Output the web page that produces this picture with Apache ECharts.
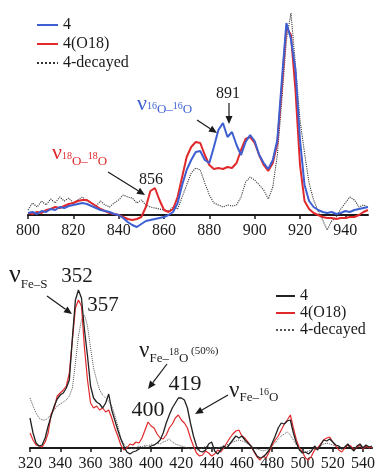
<!DOCTYPE html>
<html><head><meta charset="utf-8">
<script src="https://cdn.jsdelivr.net/npm/echarts@6/dist/echarts.min.js"></script>
<style>html,body{margin:0;padding:0;background:#fff}#c{width:378px;height:476px}</style>
</head><body><div id="c"></div>
<script>
// ---------- top panel (800-950 cm-1) ----------
const xTop = [800,802,804,806,808,810,812,814,816,818,820,822,824,826,828,830,832,834,836,838,840,842,844,846,848,850,852,854,856,858,860,862,864,866,868,870,872,874,876,878,880,882,884,886,888,890,892,894,896,898,900,902,904,906,908,910,912,914,916,918,920,922,924,926,928,930,932,934,936,938,940,942,944,946,948,950];
const topS4 = [2,3,1,4,3,6,5,8,7,9,10,11,12,11,9,7,5,4,3,1,0,-3,-7,-10,-12,-9,-6,-5,-4,-3,-2,0,3,12,30,45,55,63,64,55,52,68,85,92,78,83,70,60,73,80,74,60,52,46,55,75,135,192,176,145,75,30,14,8,5,3,2,3,1,2,4,3,5,6,7,8];
const topS18 = [2,1,3,2,5,6,8,7,9,11,12,14,15,15,12,9,6,4,2,1,0,-2,-4,-5,-4,-2,8,24,27,15,5,3,6,18,38,58,68,73,72,60,50,46,47,46,48,47,52,65,76,78,72,60,50,44,52,72,128,188,180,125,50,14,6,2,0,-2,-3,-3,-4,-3,-3,-2,-2,0,3,5];
const topDecayed = [5,12,8,14,10,16,12,18,14,17,12,15,18,14,12,9,14,10,8,12,15,20,18,17,12,15,10,8,7,6,5,4,8,6,18,30,42,47,45,32,20,12,10,8,10,9,10,18,33,38,35,30,25,16,28,60,115,175,202,150,95,62,32,15,4,-5,-15,-6,-2,6,12,18,15,8,10,8];
const topTicks = [800,820,840,860,880,900,920,940];

// ---------- bottom panel (320-546 cm-1) ----------
const xBot = [320,322,324,326,328,330,332,334,336,338,340,342,344,346,348,350,352,354,356,358,360,362,364,366,368,370,372,374,376,378,380,382,384,386,388,390,392,394,396,398,400,402,404,406,408,410,412,414,416,418,420,422,424,426,428,430,432,434,436,438,440,442,444,446,448,450,452,454,456,458,460,462,464,466,468,470,472,474,476,478,480,482,484,486,488,490,492,494,496,498,500,502,504,506,508,510,512,514,516,518,520,522,524,526,528,530,532,534,536,538,540,542,544,546];
const botS4 = [30,15,5,2,3,10,22,32,42,49,53,55,60,68,110,148,158,150,118,92,62,50,46,44,40,45,54,38,28,18,9,2,-4,-6,-4,-3,-1,0,1,0,2,3,5,8,15,25,33,40,45,50,50,48,40,25,12,2,-3,-4,-2,4,6,-3,-6,-2,2,0,4,8,12,10,12,8,5,2,-3,-8,-10,-9,-6,-2,5,12,20,25,24,27,28,15,5,-2,-5,-4,-6,-3,2,-2,3,8,7,9,6,3,2,-1,1,4,0,-3,2,4,0,3,1,2];
const botS18 = [15,8,3,2,1,6,15,34,40,52,55,58,62,75,108,140,148,142,100,68,45,40,42,38,40,36,38,30,20,12,3,-2,0,4,3,6,5,10,18,26,22,20,14,10,9,13,20,24,30,33,28,25,20,10,2,-5,-8,-7,-3,-5,-8,-6,-2,-4,0,5,10,14,17,18,12,10,6,2,-4,-9,-12,-8,-10,-4,3,8,12,18,24,28,33,20,8,0,-4,-10,-12,-8,-2,0,4,8,10,11,6,2,-2,-4,0,3,2,-2,1,3,-1,2,0,1];
const botDecayed = [50,42,35,30,28,28,30,34,38,42,44,46,48,52,60,85,112,128,133,122,100,80,68,58,53,50,47,42,33,22,10,4,1,0,-1,0,2,1,3,2,4,3,5,4,6,7,9,6,4,3,2,1,0,-1,0,-2,-1,0,2,1,0,-1,0,1,2,3,4,6,7,8,7,6,4,2,0,-1,-2,-3,-2,0,2,5,9,12,14,16,13,8,3,0,-2,-4,-3,-2,0,1,2,4,5,4,3,2,1,0,1,2,1,0,1,2,1,0,1,0];
const botTicks = [320,340,360,380,400,420,440,460,480,500,520,540];

const legendTop = ['4','4(O18)','4-decayed'];
const legendBot = ['4 ','4(O18) ','4-decayed '];

const SERIF = '"Liberation Serif","DejaVu Serif",serif';
const BLUE = '#3d5fd1', RED = '#e1282b', INK = '#1a1a1a';

const pairs = (xs, ys) => xs.map((x, i) => [x, ys[i]]);

function axisX(gi, min, max, ticks) {
  return {
    type: 'value', gridIndex: gi, min: min, max: max, interval: 20,
    axisLine: {onZero: false, lineStyle: {color: INK, width: 2}},
    axisTick: {show: true, length: 4, customValues: ticks, lineStyle: {color: INK, width: 1.5}},
    axisLabel: {customValues: ticks, fontFamily: SERIF, fontSize: 16, color: INK, margin: 8},
    splitLine: {show: false}
  };
}
function axisY(gi, min, max) {
  return {type: 'value', gridIndex: gi, min: min, max: max, show: false, splitLine: {show: false}};
}

// sequence of text pieces laid out left-to-right: [text, fontSize, yMid]
const mctx = document.createElement('canvas').getContext('2d');
function seq(x, color, items) {
  const out = [];
  let cx = x;
  items.forEach(it => {
    out.push({type: 'text', x: cx, y: it[2], z: 100,
      style: {text: it[0], fontFamily: SERIF, fontSize: it[1], fill: color, align: 'left', verticalAlign: 'middle'}});
    mctx.font = it[1] + 'px ' + SERIF;
    cx += mctx.measureText(it[0]).width;
  });
  return out;
}
function plain(x, y, txt, size, color) {
  return {type: 'text', x: x, y: y, z: 100, style: {text: txt, fontFamily: SERIF, fontSize: size, fill: color || INK, align: 'center', verticalAlign: 'middle'}};
}
function arrow(x1, y1, x2, y2) {
  const a = Math.atan2(y2 - y1, x2 - x1), L = 8, W = 3.5;
  const bx = x2 - L * Math.cos(a), by = y2 - L * Math.sin(a);
  return [
    {type: 'line', z: 100, shape: {x1: x1, y1: y1, x2: bx, y2: by}, style: {stroke: INK, lineWidth: 1.2}},
    {type: 'polygon', z: 100, shape: {points: [[x2, y2], [bx + W * Math.sin(a), by - W * Math.cos(a)], [bx - W * Math.sin(a), by + W * Math.cos(a)]]}, style: {fill: INK}}
  ];
}

const graphics = [
  ...seq(137, BLUE, [['ν', 22, 104], ['16', 10, 106], ['O–', 13, 110], ['16', 10, 106], ['O', 13, 110]]),
  ...seq(52, RED, [['ν', 22, 153], ['18', 10, 156], ['O–', 13, 162], ['18', 10, 156], ['O', 13, 162]]),
  plain(228, 94, '891', 16),
  plain(151, 180, '856', 16),
  ...arrow(229, 103, 229, 124),
  ...arrow(197, 120, 217, 133),
  ...arrow(108, 172, 145, 195),
  ...seq(9, INK, [['ν', 26, 275], ['Fe–S', 13, 285]]),
  plain(77, 276, '352', 21),
  plain(103, 305, '357', 21),
  ...arrow(47, 296, 72, 314),
  ...seq(139, INK, [['ν', 23, 351], ['Fe–', 13, 359], ['18', 10, 352], ['O', 13, 359], [' (50%)', 11, 351]]),
  ...arrow(167, 364, 148, 389),
  plain(148, 410, '400', 22),
  plain(185, 384, '419', 22),
  ...seq(229, INK, [['ν', 23, 391], ['Fe–', 13, 398], ['16', 10, 392], ['O', 13, 398]]),
  ...arrow(228, 395, 195, 414)
];

const chart = echarts.init(document.getElementById('c'), null, {renderer: 'canvas'});
chart.setOption({
  animation: false,
  backgroundColor: '#fff',
  grid: [
    {left: 28, right: 10, top: 10, height: 205},
    {left: 30, right: 0, top: 263, height: 185}
  ],
  xAxis: [axisX(0, 800, 950, topTicks), axisX(1, 320, 546, botTicks)],
  yAxis: [axisY(0, 0, 205), axisY(1, 0, 185)],
  legend: [
    {data: legendTop, orient: 'vertical', left: 31, top: 12, itemWidth: 21, itemHeight: 10, itemGap: 3,
     itemStyle: {opacity: 0}, textStyle: {fontFamily: SERIF, fontSize: 16, color: INK}, formatter: n => n.trim()},
    {data: legendBot, orient: 'vertical', left: 270, top: 283, itemWidth: 19, itemHeight: 10, itemGap: 1,
     itemStyle: {opacity: 0}, textStyle: {fontFamily: SERIF, fontSize: 16, color: INK}, formatter: n => n.trim()}
  ],
  series: [
    {name: '4-decayed', type: 'line', xAxisIndex: 0, yAxisIndex: 0, symbol: 'none', clip: false, data: pairs(xTop, topDecayed),
     lineStyle: {color: '#333', width: 1.1, type: 'dotted'}, itemStyle: {color: '#333'}},
    {name: '4(O18)', type: 'line', xAxisIndex: 0, yAxisIndex: 0, symbol: 'none', clip: false, data: pairs(xTop, topS18),
     lineStyle: {color: RED, width: 2}, itemStyle: {color: RED}},
    {name: '4', type: 'line', xAxisIndex: 0, yAxisIndex: 0, symbol: 'none', clip: false, data: pairs(xTop, topS4),
     lineStyle: {color: BLUE, width: 2}, itemStyle: {color: BLUE}},
    {name: '4-decayed ', type: 'line', xAxisIndex: 1, yAxisIndex: 1, symbol: 'none', clip: false, data: pairs(xBot, botDecayed),
     lineStyle: {color: '#555', width: 1, type: 'dotted'}, itemStyle: {color: '#555'}},
    {name: '4(O18) ', type: 'line', xAxisIndex: 1, yAxisIndex: 1, symbol: 'none', clip: false, data: pairs(xBot, botS18),
     lineStyle: {color: RED, width: 1.2}, itemStyle: {color: RED}},
    {name: '4 ', type: 'line', xAxisIndex: 1, yAxisIndex: 1, symbol: 'none', clip: false, data: pairs(xBot, botS4),
     lineStyle: {color: '#222', width: 1.3}, itemStyle: {color: '#222'}}
  ],
  graphic: graphics
});
</script>
</body></html>
